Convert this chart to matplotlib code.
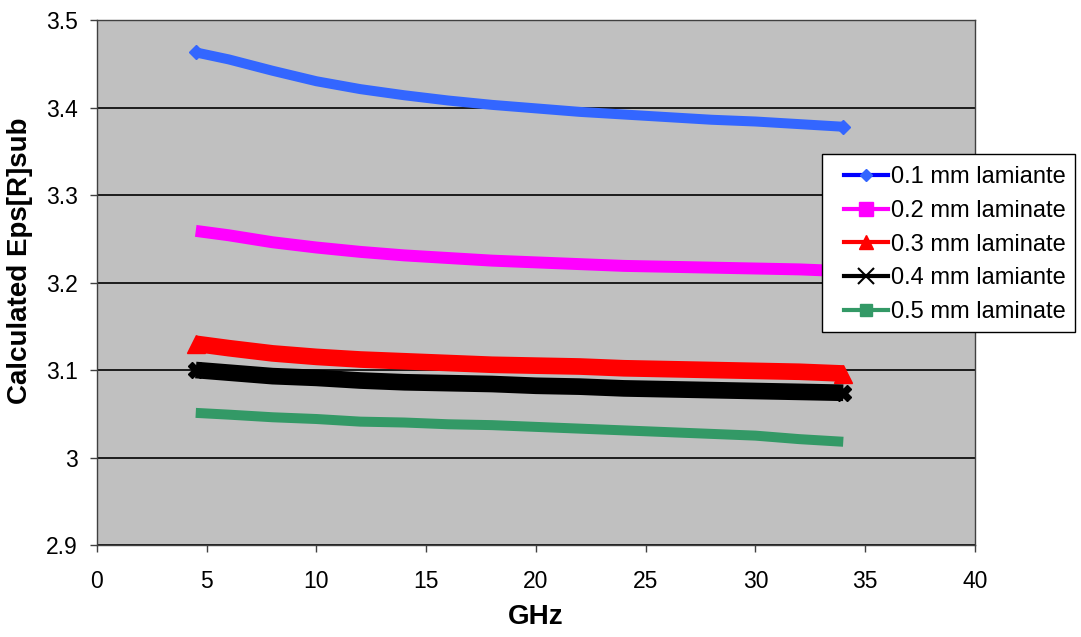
import numpy as np
import matplotlib
matplotlib.use('Agg')
import matplotlib.pyplot as plt
from matplotlib.lines import Line2D
from matplotlib.patches import Rectangle

plt.rcParams['font.family'] = ['Liberation Sans', 'DejaVu Sans']

# values
ghz = [4.5, 6, 8, 10, 12, 14, 16, 18, 20, 22, 24, 26, 28, 30, 32, 34]
eps_01 = [3.463, 3.455, 3.442, 3.430, 3.421, 3.414, 3.408, 3.403, 3.399,
          3.395, 3.392, 3.389, 3.386, 3.384, 3.381, 3.378]
eps_02 = [3.259, 3.254, 3.246, 3.240, 3.235, 3.231, 3.228, 3.225, 3.223,
          3.221, 3.219, 3.218, 3.217, 3.216, 3.215, 3.213]
eps_03 = [3.130, 3.125, 3.119, 3.115, 3.112, 3.110, 3.108, 3.106, 3.105,
          3.104, 3.102, 3.101, 3.100, 3.099, 3.098, 3.096]
eps_04 = [3.100, 3.097, 3.093, 3.091, 3.088, 3.086, 3.085, 3.084, 3.082,
          3.081, 3.079, 3.078, 3.077, 3.076, 3.075, 3.074]
eps_05 = [3.051, 3.049, 3.046, 3.044, 3.041, 3.040, 3.038, 3.037, 3.035,
          3.033, 3.031, 3.029, 3.027, 3.025, 3.021, 3.018]

labels = ['0.1 mm lamiante', '0.2 mm laminate', '0.3 mm laminate',
          '0.4 mm lamiante', '0.5 mm laminate']
series = [eps_01, eps_02, eps_03, eps_04, eps_05]
colors = ['#3366FF', '#FF00FF', '#FF0000', '#000000', '#339966']
markers = ['D', 's', '^', 'x', 's']
widths = [7.2, 8.6, 12, 12, 7.2]
end_sizes = [7, 0, 13, 12, 0]

fig = plt.figure(figsize=(10.81, 6.37), dpi=100)
ax = fig.add_axes([0.0897, 0.1444, 0.8122, 0.8242])
ax.set_facecolor('#C0C0C0')

for y, c, m, w, s in zip(series, colors, markers, widths, end_sizes):
    ax.plot(ghz, y, color=c, lw=w, solid_capstyle='butt', solid_joinstyle='round', zorder=3)
    if s == 0:
        continue
    if m == 'x':
        ax.plot(ghz, y, ls='none', marker='X', ms=s, color=c, markevery=[0, -1], zorder=3)
    else:
        ax.plot(ghz, y, ls='none', marker=m, ms=s, color=c, mec=c, markevery=[0, -1], zorder=3)

ax.set_xlim(0, 40)
ax.set_ylim(2.9, 3.5)
ax.set_xticks(range(0, 41, 5))
ax.set_yticks([2.9, 3.0, 3.1, 3.2, 3.3, 3.4, 3.5])
ax.set_yticklabels(['2.9', '3', '3.1', '3.2', '3.3', '3.4', '3.5'])
ax.yaxis.grid(True, color='black', lw=1.2)
ax.set_axisbelow(True)
for sp in ax.spines.values():
    sp.set_color('#404040')
    sp.set_linewidth(1.0)
ax.tick_params(direction='out', length=5, width=1, color='#404040', labelsize=16.5, pad=9)
ax.tick_params(axis='x', pad=13)

ax.set_xlabel('GHz', fontsize=20, fontweight='bold', labelpad=8)
ax.set_ylabel('Calculated Eps[R]sub', fontsize=20, fontweight='bold')
ax.yaxis.set_label_coords(-0.073, 0.541)

handles = []
for c, m in zip(colors, markers):
    if m == 'x':
        h = Line2D([], [], color=c, lw=3, marker='x', ms=12, mew=1.5)
    elif m == 'D':
        h = Line2D([], [], color='#0000FF', lw=3, marker='D', ms=6, mfc=c, mec=c)
    elif c == '#339966':
        h = Line2D([], [], color=c, lw=3, marker='s', ms=8, mfc=c, mec=c)
    else:
        h = Line2D([], [], color=c, lw=3, marker=m, ms=10, mfc=c, mec=c)
    handles.append(h)

# legend box drawn separately so the padding matches the original
box = Rectangle((822 / 1081, 1 - 332 / 637), 253 / 1081, 178 / 637,
                transform=fig.transFigure, facecolor='white', edgecolor='black',
                lw=1.0, zorder=4)
fig.patches.append(box)

leg = fig.legend(handles, labels, loc='upper left', bbox_to_anchor=(844 / 1081, 1 - 166 / 637),
                 fontsize=17, frameon=False, handlelength=1.86, handletextpad=0.15,
                 labelspacing=0.5, borderpad=0, borderaxespad=0)
leg.set_zorder(5)

plt.savefig('out.png', dpi=100)
